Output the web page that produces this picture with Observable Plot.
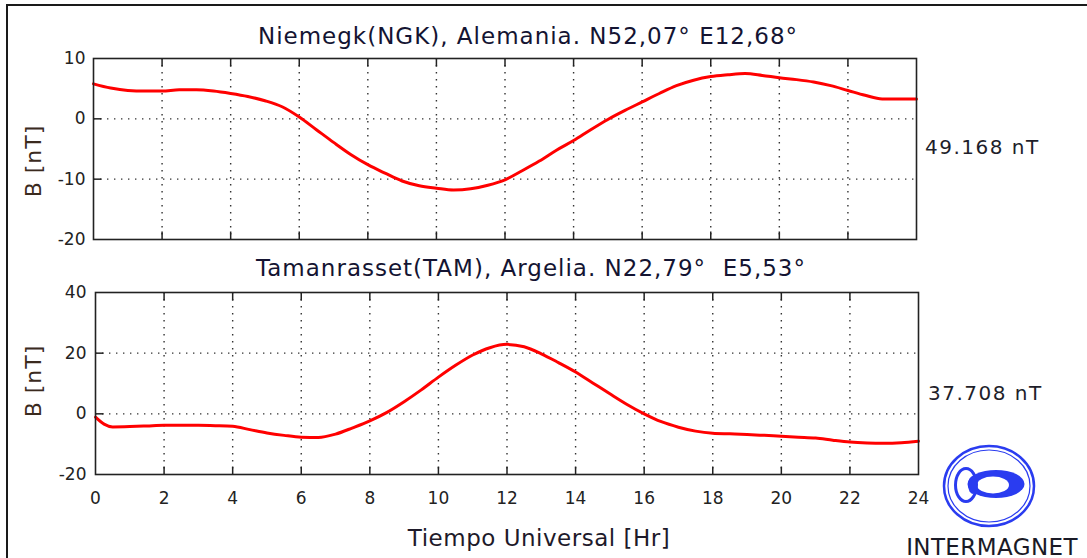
<!DOCTYPE html>
<html><head><meta charset="utf-8">
<script src="https://cdn.jsdelivr.net/npm/d3@7"></script>
<script src="https://cdn.jsdelivr.net/npm/@observablehq/plot@0.6"></script>
<style>
html,body{margin:0;padding:0;background:#fff;}
#wrap{position:relative;width:1087px;height:558px;overflow:hidden;background:#fff;font-family:"DejaVu Sans",sans-serif;}
#border{position:absolute;left:6px;top:4px;width:1100px;height:600px;border:2px solid #1a1a1a;box-sizing:border-box;}
.panel{position:absolute;left:0;}
.t{position:absolute;white-space:pre;line-height:1;transform:translate(-50%,-50%);}
.l{position:absolute;white-space:pre;line-height:1;transform:translate(0,-50%);}
.title{font-size:23px;letter-spacing:1px;color:#141432;}
.ylab{font-size:22px;letter-spacing:1px;color:#3b2a1e;transform:translate(-50%,-50%) rotate(-90deg);}
.val{font-size:20px;letter-spacing:1.5px;color:#1e1e2a;}
.xlab{font-size:23px;letter-spacing:0.5px;color:#1e1a2a;}
.im{font-size:23px;letter-spacing:0.4px;color:#1a1a26;}
#logo{position:absolute;left:0;top:0;}
</style>
</head><body>
<div id="wrap">
  <div id="border"></div>
  <div id="top" class="panel" style="top:0"></div>
  <div id="bot" class="panel" style="top:260px"></div>
  <div class="t title" style="left:528px;top:36px">Niemegk(NGK), Alemania. N52,07° E12,68°</div>
  <div class="t title" style="left:531px;top:268px">Tamanrasset(TAM), Argelia. N22,79°  E5,53°</div>
  <div class="t ylab" style="left:34px;top:161px">B [nT]</div>
  <div class="t ylab" style="left:34px;top:381px">B [nT]</div>
  <div class="l val" style="left:925px;top:147px">49.168 nT</div>
  <div class="l val" style="left:928px;top:393px">37.708 nT</div>
  <div class="t xlab" style="left:539px;top:538px">Tiempo Universal [Hr]</div>
  <div class="t im" style="left:992px;top:547px">INTERMAGNET</div>
  <svg id="logo" width="1087" height="558">
    <g stroke="#2a3cf0" fill="none">
      <ellipse cx="989" cy="486" rx="45" ry="40" stroke-width="2.5"/>
      <ellipse cx="989" cy="486" rx="41" ry="36" stroke-width="1.2"/>
      <ellipse cx="966" cy="485" rx="10.5" ry="16.5" stroke-width="3"/>
      <ellipse cx="996" cy="484" rx="28.5" ry="14" fill="#2a3cf0" stroke="none"/>
      <ellipse cx="993" cy="485" rx="16" ry="8.5" fill="#fff" stroke="none"/>
      <ellipse cx="973" cy="485" rx="5" ry="9" fill="#2a3cf0" stroke="none"/>
    </g>
  </svg>
</div>
<script>
// Data
const hoursNGK = [0,0.5,1,1.5,2,2.5,3,3.5,4,4.5,5,5.5,6,6.5,7,7.5,8,8.5,9,9.5,10,10.5,11,11.5,12,12.5,13,13.5,14,14.5,15,15.5,16,16.5,17,17.5,18,18.5,19,19.5,20,20.5,21,21.5,22,22.5,23,23.5,24];
const bNGK = [5.8,5.1,4.7,4.6,4.6,4.8,4.8,4.6,4.2,3.7,3.0,2.0,0.3,-1.8,-3.9,-5.9,-7.6,-9.0,-10.3,-11.1,-11.5,-11.8,-11.6,-11.0,-10.1,-8.6,-7.0,-5.2,-3.6,-1.8,-0.1,1.4,2.8,4.2,5.5,6.4,7.0,7.3,7.5,7.2,6.8,6.5,6.1,5.5,4.7,3.9,3.3,3.3,3.3];
const hoursTAM = [0,0.25,0.5,1,1.5,2,2.5,3,3.5,4,4.5,5,5.5,6,6.5,7,7.5,8,8.5,9,9.5,10,10.5,11,11.5,12,12.5,13,13.5,14,14.5,15,15.5,16,16.5,17,17.5,18,18.5,19,19.5,20,20.5,21,21.5,22,22.5,23,23.5,24];
const bTAM = [-1.1,-3.4,-4.3,-4.2,-4.0,-3.8,-3.8,-3.8,-3.9,-4.1,-5.2,-6.3,-7.1,-7.7,-7.8,-6.7,-4.6,-2.3,0.5,4.0,7.9,12.1,16.0,19.4,21.8,22.9,22.1,19.8,16.9,13.8,10.2,6.6,3.1,0.0,-2.6,-4.4,-5.7,-6.4,-6.6,-6.8,-7.1,-7.4,-7.7,-8.0,-8.7,-9.3,-9.6,-9.7,-9.5,-9.0];
const xTicks = [0,2,4,6,8,10,12,14,16,18,20,22,24];
const yTicksNGK = [-20,-10,0,10];
const yTicksTAM = [-20,0,20,40];

const tickDown = {draw(c){c.moveTo(0,0);c.lineTo(0,8);}};
const tickUp = {draw(c){c.moveTo(0,0);c.lineTo(0,-8);}};
const tickRight = {draw(c){c.moveTo(0,0);c.lineTo(8,0);}};

function panel({hours, values, yTicks, height, ml, mr, mt, mb, showX, pad}) {
  const data = hours.map((h,i)=>({h, b: values[i]}));
  const yDomain = [yTicks[0], yTicks[yTicks.length-1]];
  const innerX = xTicks.slice(1,-1);
  const innerY = yTicks.slice(1,-1);
  const tickStyle = {stroke:"#222", strokeWidth:1.5, fill:"none"};
  const grid = {stroke:"#333", strokeWidth:1.4, strokeDasharray:"1.4 5.6"};
  return Plot.plot({
    width: 1087, height,
    marginLeft: ml, marginRight: mr, marginTop: mt, marginBottom: mb,
    style: {fontFamily:"DejaVu Sans", fontSize:"17px", color:"#222", background:"transparent", overflow:"visible"},
    x: {domain:[0,24], ticks: xTicks, tickSize:0, tickPadding:17, tickFormat:d=>String(d), label:null, axis: showX ? "bottom" : null},
    y: {domain: yDomain, ticks: yTicks, tickSize:0, tickPadding: pad, tickFormat:d=>String(d), label:null},
    marks: [
      Plot.ruleX(innerX, {x:d=>d, ...grid}),
      Plot.ruleY(innerY, {y:d=>d, ...grid}),
      Plot.dot(innerX, {x:d=>d, y:()=>yDomain[1], symbol: tickDown, ...tickStyle}),
      Plot.dot(innerX, {x:d=>d, y:()=>yDomain[0], symbol: tickUp, ...tickStyle}),
      Plot.dot(innerY, {x:()=>0, y:d=>d, symbol: tickRight, ...tickStyle}),
      Plot.line(data, {x:"h", y:"b", stroke:"#ff0000", strokeWidth:3, curve:"monotone-x"}),
      Plot.frame({stroke:"#222", strokeWidth:1.6})
    ]
  });
}

document.getElementById("top").append(panel({hours:hoursNGK, values:bNGK, yTicks:yTicksNGK, height:260, ml:93, mr:171, mt:58, mb:21, showX:false, pad:8}));
document.getElementById("bot").append(panel({hours:hoursTAM, values:bTAM, yTicks:yTicksTAM, height:298, ml:95, mr:169, mt:32, mb:84, showX:true, pad:9}));
</script>
</body></html>
